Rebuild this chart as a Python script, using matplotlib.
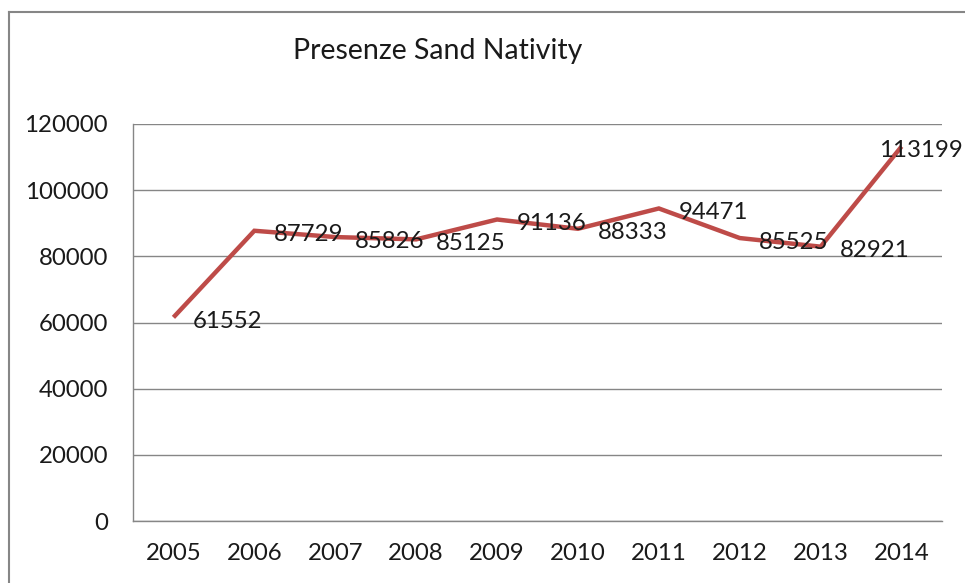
import matplotlib
matplotlib.use("Agg")
import matplotlib.pyplot as plt
from matplotlib.lines import Line2D

years = ["2005", "2006", "2007", "2008", "2009", "2010", "2011", "2012", "2013", "2014"]
presenze = [61552, 87729, 85826, 85125, 91136, 88333, 94471, 85525, 82921, 113199]
yticks = [0, 20000, 40000, 60000, 80000, 100000, 120000]
title = "Presenze Sand Nativity"

W, H = 965, 583
fig = plt.figure(figsize=(W / 100, H / 100), dpi=100)
plt.rcParams['font.family'] = ['Lato', 'DejaVu Sans']
FS = 17.3

ax = fig.add_axes([133 / W, 1 - 521 / H, (942 - 133) / W, (521 - 124) / H])
x = list(range(len(years)))
ax.plot(x, presenze, color="#BE4B48", lw=3.2, solid_capstyle="butt", solid_joinstyle="miter", zorder=3)

ax.set_xlim(-0.5, len(years) - 0.5)
ax.set_ylim(0, 120000)
ax.set_yticks(yticks)
ax.set_yticklabels([str(v) for v in yticks], fontsize=FS, color="#1a1a1a")
ax.set_xticks(x)
ax.set_xticklabels(years, fontsize=FS, color="#1a1a1a")
ax.tick_params(axis="both", length=0)
ax.tick_params(axis="y", pad=18)
ax.tick_params(axis="x", pad=16)
ax.grid(axis="y", color="#868686", lw=1.0)
ax.set_axisbelow(True)
for s in ["top", "right"]:
    ax.spines[s].set_visible(False)
for s in ["left", "bottom"]:
    ax.spines[s].set_color("#868686")
    ax.spines[s].set_linewidth(1.0)

for i, v in enumerate(presenze):
    dx = 14 if i < len(presenze) - 1 else -16
    ax.annotate(str(v), (i, v), xytext=(dx, -3), textcoords="offset points",
                ha="left", va="center", fontsize=FS, color="#1a1a1a", zorder=4)

fig.text(438 / W, 1 - 51 / H, title, ha="center", va="center", fontsize=20.5, color="#1a1a1a")

# outer chart border
fig.add_artist(Line2D([9 / W, 1.0], [1 - 12 / H, 1 - 12 / H], transform=fig.transFigure, color="#868686", lw=1.5))
fig.add_artist(Line2D([9 / W, 9 / W], [0.0, 1 - 12 / H], transform=fig.transFigure, color="#868686", lw=1.5))

fig.savefig("out.png", dpi=100)
